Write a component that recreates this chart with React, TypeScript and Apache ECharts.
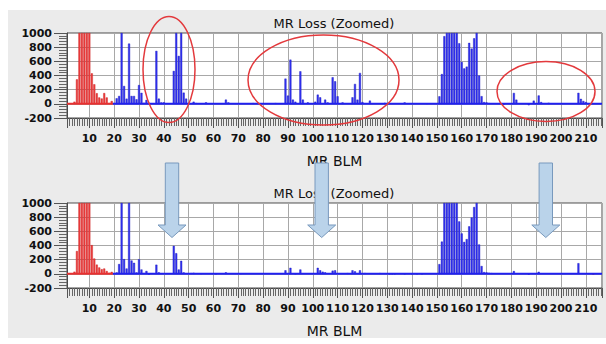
import React, { useEffect, useRef } from 'react';
import * as echarts from 'echarts';

const titleText = 'MR Loss (Zoomed)';
const xName = 'MR BLM';
const xMin = 1;
const xMax = 216.5;
const yMin = -200;
const yMax = 1000;
const yStep = 200;

// [BLM number, loss] pairs
const topRed: [number, number][] = [[4,30],[5,345],[6,1000],[7,1000],[8,1000],[9,1000],[10,1000],[11,430],[12,276],[13,150],[14,90],[15,75],[16,152],[17,90],[18,10],[19,40]];
const topBlue: [number, number][] = [[20,10],[21,78],[22,111],[23,1000],[24,252],[25,73],[26,850],[27,111],[28,111],[29,64],[30,265],[31,155],[32,15],[33,55],[34,10],[37,747],[38,73],[39,20],[40,20],[44,464],[45,1000],[46,676],[47,1000],[48,158],[49,73],[50,10],[52,30],[53,10],[57,20],[65,59],[66,20],[76,10],[85,10],[89,356],[90,116],[91,624],[92,59],[93,30],[95,459],[96,59],[98,20],[101,30],[102,130],[103,92],[105,59],[106,20],[108,375],[109,318],[110,106],[112,20],[116,92],[117,281],[118,59],[119,436],[120,25],[123,45],[129,15],[137,20],[146,5],[151,106],[152,420],[153,955],[154,1000],[155,1000],[156,1000],[157,1000],[158,1000],[159,855],[160,590],[161,500],[162,525],[163,860],[164,780],[165,925],[166,1000],[167,400],[168,108],[169,25],[170,20],[171,10],[177,-10],[181,154],[182,59],[187,-20],[189,45],[191,118],[192,25],[195,15],[207,155],[208,70],[209,40],[210,25]];
const bottomRed: [number, number][] = [[4,30],[5,322],[6,1000],[7,1000],[8,1000],[9,1000],[10,1000],[11,405],[12,216],[13,130],[14,90],[15,65],[16,75],[17,40],[18,15],[19,28],[213,-10]];
const bottomBlue: [number, number][] = [[20,5],[21,20],[22,138],[23,1000],[24,207],[25,75],[26,1000],[27,188],[28,155],[29,20],[30,206],[31,61],[32,10],[33,40],[34,-10],[37,129],[38,20],[44,395],[45,291],[46,61],[47,184],[48,20],[51,10],[52,15],[55,5],[61,-5],[65,20],[71,5],[89,50],[91,85],[93,-5],[95,61],[102,85],[103,50],[104,30],[105,20],[108,45],[109,50],[114,10],[116,50],[117,35],[119,50],[121,10],[127,10],[131,-5],[132,-5],[133,-5],[137,-5],[140,-5],[142,-5],[144,-5],[151,137],[152,455],[153,1000],[154,1000],[155,1000],[156,1000],[157,1000],[158,1000],[159,740],[160,570],[161,450],[162,490],[163,670],[164,795],[165,943],[166,1000],[167,415],[168,110],[169,25],[170,20],[171,15],[172,10],[181,38],[187,-10],[191,29],[207,150]];
const redBaseline: [number, number][] = [[1, 0], [19.5, 0]];
const blueBaseline: [number, number][] = [[19.5, 0], [216.5, 0]];

const FONT = '"DejaVu Sans", Verdana, sans-serif';
const RED = { color: '#ee4040', borderColor: '#c81818', borderWidth: 0.4 };
const BLUE = { color: '#3434f4', borderColor: '#1010b8', borderWidth: 0.4 };

const grids = [
  { left: 67, top: 33, width: 535, height: 85 },
  { left: 67, top: 203, width: 535, height: 85 },
];

const plain = (v: number) => String(v);

function makeX(i: number) {
  return {
    type: 'value', gridIndex: i, min: xMin, max: xMax, splitNumber: 20,
    name: xName, nameLocation: 'middle', nameGap: 36,
    nameTextStyle: { fontSize: 14, color: '#111', fontFamily: FONT },
    axisLine: { show: true, onZero: false, lineStyle: { color: '#4a4a4a', width: 1 } },
    axisTick: { show: true, length: 10, lineStyle: { color: '#555', width: 1 } },
    minorTick: { show: true, splitNumber: 10, length: 8, lineStyle: { color: '#666', width: 1 } },
    axisLabel: { show: true, showMinLabel: false, showMaxLabel: false, margin: 15, fontSize: 11, fontWeight: 'bold', color: '#111', fontFamily: FONT, formatter: plain },
    splitLine: { show: true, lineStyle: { color: '#a8a8a8', width: 1 } },
  };
}
function makeY(i: number) {
  return {
    type: 'value', gridIndex: i, min: yMin, max: yMax, interval: yStep,
    axisLine: { show: true, onZero: false, lineStyle: { color: '#4a4a4a', width: 1 } },
    axisTick: { show: true, length: 13, lineStyle: { color: '#555', width: 1 } },
    minorTick: { show: true, splitNumber: 5, length: 8, lineStyle: { color: '#666', width: 1 } },
    axisLabel: { show: true, margin: 15, fontSize: 11, fontWeight: 'bold', color: '#111', fontFamily: FONT, formatter: plain },
    splitLine: { show: true, lineStyle: { color: '#a8a8a8', width: 1 } },
  };
}
function barData(red: [number, number][], blue: [number, number][]) {
  return [
    ...red.map(([x, y]) => ({ value: [x, y], itemStyle: RED })),
    ...blue.map(([x, y]) => ({ value: [x, y], itemStyle: BLUE })),
  ];
}
function panelSeries(i: number, red: [number, number][], blue: [number, number][]) {
  return [
    { type: 'bar', xAxisIndex: i, yAxisIndex: i, barWidth: 2, data: barData(red, blue), z: 2 },
    { type: 'line', xAxisIndex: i, yAxisIndex: i, data: redBaseline, symbol: 'none', lineStyle: { color: '#e83030', width: 2 }, z: 3 },
    { type: 'line', xAxisIndex: i, yAxisIndex: i, data: blueBaseline, symbol: 'none', lineStyle: { color: '#2020f0', width: 2 }, z: 3 },
  ];
}
function arrow(cx: number) {
  const top = 163, base = 225, tip = 237.5, sw = 6.7, hw = 14;
  return {
    type: 'polygon', z: 100, silent: true,
    shape: { points: [[cx - sw, top], [cx + sw, top], [cx + sw, base], [cx + hw, base], [cx, tip], [cx - hw, base], [cx - sw, base]] },
    style: { fill: '#bad3ea', stroke: '#7899bd', lineWidth: 1 },
  };
}
function ellipse(cx: number, cy: number, rx: number, ry: number) {
  return { type: 'ellipse', z: 100, silent: true, shape: { cx, cy, rx, ry }, style: { fill: 'none', stroke: '#e3393c', lineWidth: 1.5 } };
}
function title(y: number) {
  return { type: 'text', z: 50, x: 334, y, style: { text: titleText, fill: '#111', font: '13px ' + FONT, textAlign: 'center', textVerticalAlign: 'middle' } };
}

export default function App() {
  const ref = useRef<HTMLDivElement>(null);
  useEffect(() => {
    const chart = echarts.init(ref.current!, undefined, { renderer: 'svg', width: 606, height: 344 });
    chart.setOption({
      animation: false,
      grid: grids.map((g) => ({ ...g, show: true, backgroundColor: '#ffffff', borderColor: '#4a4a4a', borderWidth: 1 })),
      xAxis: [makeX(0), makeX(1)],
      yAxis: [makeY(0), makeY(1)],
      series: [...panelSeries(0, topRed, topBlue), ...panelSeries(1, bottomRed, bottomBlue)],
      graphic: [
        title(23), title(193),
        ellipse(169, 69.5, 26, 53), ellipse(323.5, 80, 75.5, 45), ellipse(546, 91.5, 49, 30),
        arrow(172), arrow(321.7), arrow(545.8),
      ],
    });
    return () => chart.dispose();
  }, []);
  return (
    <div style={{ position: 'fixed', left: 0, top: 0, width: 606, height: 344, background: '#ffffff' }}>
      <div style={{ position: 'absolute', left: 8, top: 10, width: 598, height: 328, background: '#ebebeb' }} />
      <div ref={ref} style={{ position: 'absolute', left: 0, top: 0, width: 606, height: 344 }} />
    </div>
  );
}
